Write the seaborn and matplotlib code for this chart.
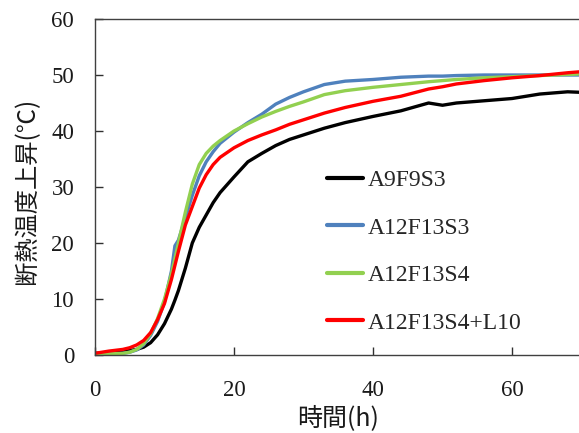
import numpy as np
import pandas as pd
import matplotlib
matplotlib.use("Agg")
import matplotlib.pyplot as plt
import seaborn as sns

# Elapsed time (h)
hours = [0, 2, 4, 5, 6, 7, 8, 9, 10, 11, 11.5, 12, 13, 14, 15, 16, 17, 18,
         20, 22, 24, 26, 28, 30, 33, 36, 40, 44, 48, 50, 52, 56, 60, 64, 68, 70]

# Adiabatic temperature rise (deg C) per mix
a9f9s3 = [0.3, 0.4, 0.6, 0.8, 1.0, 1.4, 2.2, 3.6, 5.6, 8.2, 9.8, 11.5, 15.5, 20.0, 22.8, 25.0, 27.2, 29.0,
          31.8, 34.5, 36.0, 37.4, 38.5, 39.3, 40.5, 41.5, 42.6, 43.6, 45.0, 44.6, 45.0, 45.4, 45.8, 46.6, 47.0, 46.9]
a12f13s3 = [0.2, 0.2, 0.3, 0.5, 0.9, 1.8, 3.5, 6.0, 9.5, 15.0, 19.5, 20.5, 24.5, 28.5, 32.0, 34.5, 36.3, 37.8,
            39.8, 41.5, 43.0, 44.8, 46.0, 47.0, 48.3, 48.9, 49.2, 49.6, 49.8, 49.8, 49.9, 50.0, 50.0, 50.0, 50.0, 50.0]
a12f13s4 = [0.2, 0.2, 0.3, 0.5, 1.0, 2.0, 3.8, 6.5, 10.0, 14.5, 17.2, 20.0, 25.5, 30.5, 34.0, 36.0, 37.3, 38.3,
            40.0, 41.3, 42.5, 43.5, 44.4, 45.2, 46.5, 47.2, 47.8, 48.3, 48.8, 49.0, 49.2, 49.5, 49.7, 49.9, 50.1, 50.2]
a12f13s4_l10 = [0.3, 0.7, 1.0, 1.3, 1.8, 2.6, 4.0, 6.3, 9.2, 13.5, 16.0, 18.5, 23.2, 26.5, 29.8, 32.2, 34.0, 35.3,
                37.0, 38.3, 39.3, 40.2, 41.2, 42.0, 43.2, 44.2, 45.3, 46.2, 47.5, 47.9, 48.4, 49.0, 49.5, 49.9, 50.4, 50.6]

mix_names = ["A9F9S3", "A12F13S3", "A12F13S4", "A12F13S4+L10"]
mix_colors = ["#000000", "#4F81BD", "#92D050", "#FF0000"]
x_ticks = [0, 20, 40, 60]
y_ticks = [0, 10, 20, 30, 40, 50, 60]

frames = []
for name, vals in zip(mix_names, [a9f9s3, a12f13s3, a12f13s4, a12f13s4_l10]):
    frames.append(pd.DataFrame({"time": hours, "temp": vals, "mix": name}))
df = pd.concat(frames, ignore_index=True)

sns.set_style("ticks")
plt.rcParams["font.family"] = ["Liberation Serif", "DejaVu Serif"]

fig = plt.figure(figsize=(5.79, 4.33), dpi=100)
ax = fig.add_axes([95 / 579, 78 / 433, 486.5 / 579, 336 / 433])

sns.lineplot(data=df, x="time", y="temp", hue="mix", hue_order=mix_names,
             palette=mix_colors, linewidth=2.4, ax=ax)

ax.set_xlim(0, 70)
ax.set_ylim(0, 60)
ax.set_xticks(x_ticks)
ax.set_yticks(y_ticks)
ax.tick_params(axis="both", direction="in", length=6, width=1, colors="#303030",
               labelsize=16.5, labelcolor="#1a1a1a")
ax.tick_params(axis="x", pad=18)
ax.tick_params(axis="y", pad=15)
for side in ["left", "bottom", "top"]:
    ax.spines[side].set_color("#404040")
    ax.spines[side].set_linewidth(1.0)
ax.spines["right"].set_visible(False)

cjk = ["Noto Sans CJK JP", "DejaVu Sans"]
ax.set_xlabel("時間(h)", fontsize=18, family=cjk, color="#1a1a1a")
ax.set_ylabel("断熱温度上昇(℃)", fontsize=17.5, family=cjk, color="#1a1a1a")
ax.xaxis.set_label_coords(0.5, -0.15)
ax.yaxis.set_label_coords(-0.112, 0.487)

leg = ax.legend(loc="center left", bbox_to_anchor=(327 / 579, 1 - 251.5 / 433),
                bbox_transform=fig.transFigure, frameon=False, fontsize=17,
                handlelength=1.53, handletextpad=0.2, labelspacing=1.1,
                borderpad=0, borderaxespad=0)
for line in leg.get_lines():
    line.set_linewidth(3)

fig.savefig("out.png", dpi=100)
